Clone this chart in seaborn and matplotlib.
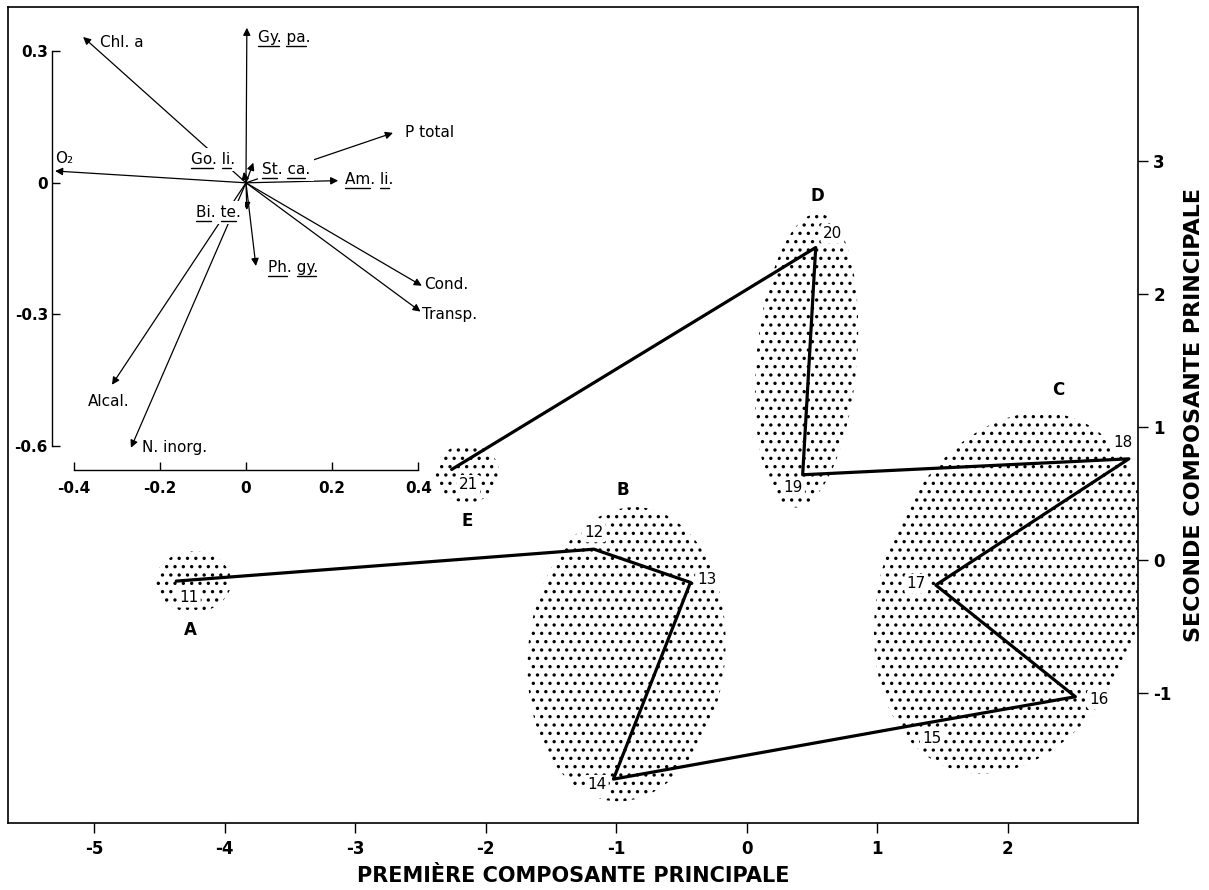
import matplotlib
matplotlib.use("Agg")
import matplotlib.pyplot as plt
import seaborn as sns
import pandas as pd
from matplotlib.patches import Ellipse
from matplotlib.lines import Line2D

# Stations along the path (scores on the two first components)
stations = [11, 12, 13, 14, 15, 16, 17, 18, 19, 20, 21]
pc1 = [-4.37, -1.17, -0.43, -1.02, 1.25, 2.52, 1.45, 2.93, 0.43, 0.53, -2.26]
pc2 = [-0.16, 0.08, -0.17, -1.65, -1.25, -1.03, -0.19, 0.76, 0.64, 2.35, 0.68]

# Station groups (stippled regions)
groups = ["A", "E", "B", "D", "C"]
group_cx = [-4.24, -2.14, -0.92, 0.46, 2.03]
group_cy = [-0.165, 0.65, -0.71, 1.50, -0.25]
group_w = [0.58, 0.49, 1.51, 0.77, 2.0]
group_h = [0.46, 0.44, 2.22, 2.22, 2.8]
group_tilt = [0, 0, -6, -5, -20]

# Variable loadings (inset)
variables = ["Chl. a", "Gy. pa.", "P total", "O₂", "Am. li.", "St. ca.", "Go. li.",
             "Bi. te.", "Ph. gy.", "Cond.", "Transp.", "Alcal.", "N. inorg."]
load1 = [-0.378, 0.002, 0.341, -0.443, 0.214, 0.017, -0.005,
         0.002, 0.023, 0.408, 0.405, -0.311, -0.267]
load2 = [0.333, 0.354, 0.114, 0.027, 0.005, 0.046, 0.025,
         -0.062, -0.190, -0.235, -0.294, -0.461, -0.605]

df = pd.DataFrame({"station": stations, "pc1": pc1, "pc2": pc2})

sns.set_theme(style="ticks")
plt.rcParams["font.family"] = ["DejaVu Sans"]
plt.rcParams["axes.unicode_minus"] = False
plt.rcParams["hatch.linewidth"] = 1.2
for k in ["text.color", "axes.labelcolor", "xtick.color", "ytick.color", "axes.edgecolor"]:
    plt.rcParams[k] = "black"

fig = plt.figure(figsize=(12.09, 8.90), dpi=100)
ax = fig.add_axes([0.0066, 0.0753, 0.9347, 0.9169])

# stippled groups
for g, cx, cy, w, h, t in zip(groups, group_cx, group_cy, group_w, group_h, group_tilt):
    e = Ellipse((cx, cy), w, h, angle=t, facecolor="none", edgecolor="black",
                linewidth=0, hatch="..", zorder=1)
    ax.add_patch(e)

sns.lineplot(data=df, x="pc1", y="pc2", sort=False, estimator=None,
             color="black", linewidth=2.3, ax=ax, zorder=3)

# station numbers
num_offsets = {11: (9, -12), 12: (0, 12), 13: (12, 2), 14: (-12, -4), 15: (16, -9),
               16: (17, -2), 17: (-14, 1), 18: (-4, 12), 19: (-7, -9), 20: (12, 10),
               21: (12, -11)}
for s, x, y in zip(stations, pc1, pc2):
    ax.annotate(str(s), (x, y), xytext=num_offsets[s], textcoords="offset points",
                ha="center", va="center", fontsize=11, zorder=4,
                bbox=dict(boxstyle="round,pad=0.15", fc="white", ec="none"))

# group letters
letter_pos = {"A": ("below", -2), "E": ("below", 0), "B": ("above", -3),
              "D": ("above", 8), "C": ("above", 34)}
for g, cx, cy, h in zip(groups, group_cx, group_cy, group_h):
    side, dx = letter_pos[g]
    yy = cy - h / 2 if side == "below" else cy + h / 2
    dy = -13 if side == "below" else 12
    ax.annotate(g, (cx, yy), xytext=(dx, dy), textcoords="offset points",
                ha="center", va="center", fontsize=12, fontweight="bold")

ax.set_xlim(-5.66, 3.0)
ax.set_ylim(-1.98, 4.16)
ax.set_xticks(range(-5, 3))
ax.set_yticks(range(-1, 4))
ax.yaxis.tick_right()
ax.yaxis.set_label_position("right")
ax.tick_params(axis="x", direction="out", length=7, width=1, pad=5, labelsize=12)
ax.tick_params(axis="y", direction="out", length=7, width=1, pad=4, labelsize=12)
for lab in ax.get_xticklabels() + ax.get_yticklabels():
    lab.set_fontweight("bold")
for sp in ax.spines.values():
    sp.set_linewidth(1.2)
ax.set_xlabel("PREMIÈRE COMPOSANTE PRINCIPALE", fontsize=15, fontweight="bold",
              labelpad=6)
ax.set_ylabel("SECONDE COMPOSANTE PRINCIPALE", fontsize=16, fontweight="bold",
              labelpad=9)

# inset with the variable loadings
axi = fig.add_axes([15 / 1209, 380 / 890, 440 / 1209, 505 / 890])
axi.patch.set_visible(False)
axi.set_xlim(-0.536, 0.485)
axi.set_ylim(-0.747, 0.406)
axi.spines["top"].set_visible(False)
axi.spines["right"].set_visible(False)
axi.spines["left"].set_position(("data", -0.45))
axi.spines["left"].set_bounds(-0.6, 0.3)
axi.spines["bottom"].set_position(("data", -0.655))
axi.spines["bottom"].set_bounds(-0.4, 0.4)
for sp in ["left", "bottom"]:
    axi.spines[sp].set_linewidth(1.0)
axi.set_xticks([-0.4, -0.2, 0, 0.2, 0.4])
axi.set_xticklabels(["-0.4", "-0.2", "0", "0.2", "0.4"])
axi.set_yticks([-0.6, -0.3, 0, 0.3])
axi.set_yticklabels(["-0.6", "-0.3", "0", "0.3"])
axi.tick_params(axis="x", direction="in", length=6, width=1, pad=8, labelsize=11)
axi.tick_params(axis="y", direction="in", length=6, width=1, pad=3, labelsize=11)
for lab in axi.get_xticklabels() + axi.get_yticklabels():
    lab.set_fontweight("bold")

var_offsets = {"Chl. a": (12, -4, "left"), "Gy. pa.": (8, -7, "left"),
               "P total": (9, 0, "left"), "O₂": (0, 9, "left"),
               "Am. li.": (5, 1, "left"), "St. ca.": (6, -5, "left"),
               "Go. li.": (-6, 9, "right"), "Bi. te.": (-4, -2, "right"),
               "Ph. gy.": (9, -1, "left"), "Cond.": (2, 1, "left"),
               "Transp.": (1, -2, "left"), "Alcal.": (-17, -12, "left"),
               "N. inorg.": (8, 0, "left")}
boxed = ["Go. li.", "Bi. te.", "St. ca."]
# species abbreviations are underlined (genus and species part)
underlined = ["Gy. pa.", "Am. li.", "St. ca.", "Go. li.", "Bi. te.", "Ph. gy."]

for v, lx, ly in zip(variables, load1, load2):
    axi.annotate("", xy=(lx, ly), xytext=(0, 0),
                 arrowprops=dict(arrowstyle="-|>", color="black", lw=0.9,
                                 mutation_scale=11, shrinkA=0, shrinkB=0), zorder=2)
texts = {}
for v, lx, ly in zip(variables, load1, load2):
    dx, dy, ha = var_offsets[v]
    kw = {}
    if v in boxed:
        kw["bbox"] = dict(boxstyle="square,pad=0.25", fc="white", ec="none")
    texts[v] = axi.annotate(v, (lx, ly), xytext=(dx, dy), textcoords="offset points",
                            ha=ha, va="center", fontsize=11, zorder=5, **kw)

# draw the underlines under both parts of the abbreviations
fig.canvas.draw()
renderer = fig.canvas.get_renderer()
W, H = fig.bbox.width, fig.bbox.height
for v in underlined:
    t = texts[v]
    bb = t.get_window_extent(renderer)
    prop = t.get_fontproperties()
    first, second = v.rstrip(".").split(". ")
    w1, _, _ = renderer.get_text_width_height_descent(first, prop, ismath=False)
    wsk, _, _ = renderer.get_text_width_height_descent(first + ". x", prop, ismath=False)
    wx, _, _ = renderer.get_text_width_height_descent("x", prop, ismath=False)
    w2, _, _ = renderer.get_text_width_height_descent(second, prop, ismath=False)
    y = bb.y0 - 1
    x0 = bb.x0
    for a, b in [(x0, x0 + w1), (x0 + wsk - wx, x0 + wsk - wx + w2)]:
        fig.add_artist(Line2D([a / W, b / W], [y / H, y / H], transform=fig.transFigure,
                              color="black", lw=1.0, zorder=6))

fig.savefig("out.png", dpi=100)
